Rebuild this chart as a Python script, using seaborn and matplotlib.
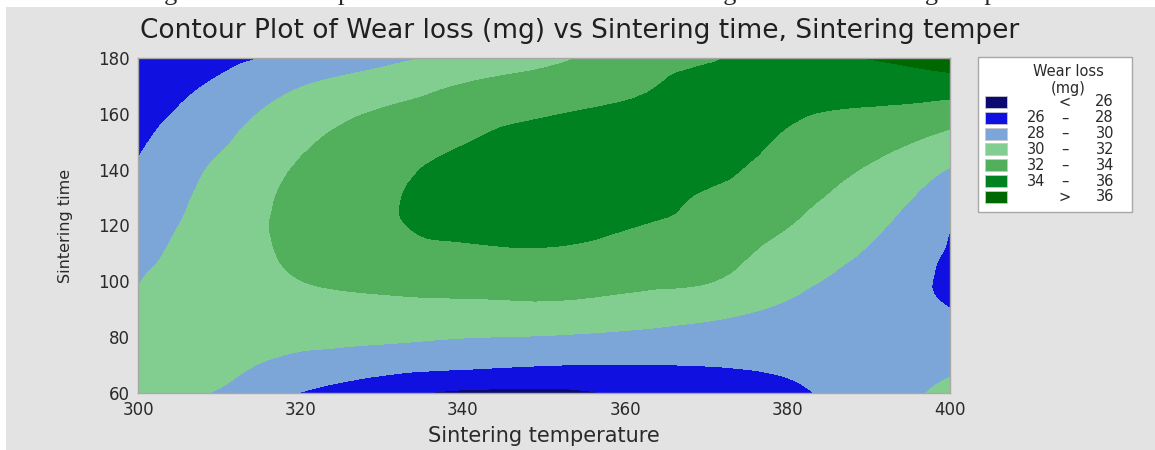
import numpy as np
import pandas as pd
import matplotlib
matplotlib.use("Agg")
import matplotlib.pyplot as plt
import matplotlib.tri as mtri
from matplotlib.patches import Rectangle
import seaborn as sns

# grid (wear loss in mg)
temps = [300, 310, 320, 330, 340, 350, 360, 370, 380, 390, 400]
times = [60, 70, 80, 90, 100, 110, 120, 130, 140, 150, 160, 170, 180]
wear_t60 = [30.5, 29.9, 27.95, 26.6, 25.7, 25.6, 26.2, 26.9, 27.6, 28.93, 30.5]
wear_t70 = [30.7, 30.4, 29.37, 28.76, 28.36, 28.04, 27.95, 28.04, 28.32, 29.0, 29.7]
wear_t80 = [30.7, 30.65, 30.55, 30.35, 30.05, 29.9, 29.6, 29.25, 29.04, 29.0, 28.8]
wear_t90 = [30.4, 30.85, 31.3, 31.4, 31.5, 31.6, 31.2, 30.6, 29.75, 28.9, 28.02]
wear_t100 = [29.96, 31.0, 31.98, 32.5, 32.7, 32.8, 32.5, 32.1, 30.5, 29.2, 27.7]
wear_t110 = [29.5, 31.0, 32.4, 33.3, 33.6, 33.8, 33.4, 32.8, 31.3, 29.8, 27.8]
wear_t120 = [29.07, 30.9, 32.6, 33.7, 34.5, 34.6, 34.1, 33.4, 32.05, 30.46, 28.1]
wear_t130 = [28.62, 30.7, 32.5, 33.7, 34.8, 35.0, 34.7, 33.8, 32.6, 31.1, 29.0]
wear_t140 = [28.18, 30.35, 32.2, 33.4, 34.6, 35.1, 35.0, 34.5, 33.2, 31.8, 29.9]
wear_t150 = [27.75, 29.7, 31.7, 32.9, 33.9, 34.8, 34.9, 34.9, 33.75, 32.8, 31.3]
wear_t160 = [27.3, 29.0, 31.1, 32.2, 33.1, 33.85, 34.4, 35.0, 34.2, 33.7, 32.9]
wear_t170 = [26.9, 28.3, 29.93, 31.0, 32.1, 32.7, 33.5, 34.7, 34.6, 34.93, 35.0]
wear_t180 = [26.5, 27.45, 28.46, 29.47, 30.52, 31.6, 32.71, 33.83, 34.97, 36.05, 37.2]

levels = [20, 26, 28, 30, 32, 34, 36, 40]
legend_labels = [("", "<", "26"), ("26", "\u2013", "28"), ("28", "\u2013", "30"),
                 ("30", "\u2013", "32"), ("32", "\u2013", "34"), ("34", "\u2013", "36"),
                 ("", ">", "36")]
colors = ["#0a0a70", "#1010e0", "#7ca6d8", "#82ce90", "#52b05c", "#008220", "#006800"]

table = pd.DataFrame([wear_t60, wear_t70, wear_t80, wear_t90, wear_t100, wear_t110,
                      wear_t120, wear_t130, wear_t140, wear_t150, wear_t160,
                      wear_t170, wear_t180], index=times, columns=temps)

sns.set_style("white")
plt.rcParams['font.family'] = ['DejaVu Sans']
pal = sns.color_palette(colors)

W, H = 1155, 450
fig = plt.figure(figsize=(W / 100, H / 100), dpi=100)
fig.patch.set_facecolor("white")
# grey minitab panel
fig.patches.append(Rectangle((6 / W, 0), 1 - 6 / W, 1 - 7 / H, transform=fig.transFigure,
                             facecolor="#e3e3e3", edgecolor="none", zorder=-5))
# clipped caption of the source document above the panel
fig.text(0.525, 1.0, "Figure 6: Contour plot between wear loss with Sintering time and Sintering temperature",
         ha="center", va="baseline", fontsize=19, family="Liberation Serif", zorder=-10)

ax = fig.add_axes([138 / W, 1 - 393 / H, (950 - 138) / W, (393 - 58) / H])
# smooth surface: matplotlib's cubic triangulation refiner over the read grid
tt, TT = np.meshgrid(table.index.values, table.columns.values, indexing="ij")
tri = mtri.Triangulation(TT.ravel(), tt.ravel())
refiner = mtri.UniformTriRefiner(tri)
interp = mtri.CubicTriInterpolator(tri, table.values.ravel(), kind="geom")
tri_f, z_f = refiner.refine_field(table.values.ravel(), triinterpolator=interp, subdiv=3)
ax.tricontourf(tri_f, z_f, levels=levels, colors=pal)
ax.set_xlim(300, 400)
ax.set_ylim(60, 180)
ax.set_xticks([300, 320, 340, 360, 380, 400])
ax.set_yticks([60, 80, 100, 120, 140, 160, 180])
for s in ax.spines.values():
    s.set_color("#a8a8a8")
    s.set_linewidth(1)
ax.tick_params(direction="out", length=4, width=1, color="#a0a0a0", labelsize=12,
               labelcolor="#2a2a2a", pad=2)
ax.set_xlabel("Sintering temperature", fontsize=15, color="#2a2a2a", labelpad=5)
ax.set_ylabel("Sintering time", fontsize=11.5, color="#2a2a2a", labelpad=18)
fig.text(580 / W, 1 - 31 / H, "Contour Plot of Wear loss (mg) vs Sintering time, Sintering temper",
         ha="center", va="center", fontsize=19, color="#202020")

# legend box
fig.patches.append(Rectangle((978 / W, 1 - 212 / H), 154 / W, 155 / H, transform=fig.transFigure,
                             facecolor="white", edgecolor="#a8a8a8", lw=1, zorder=1))
fig.text(1068 / W, 1 - 72 / H, "Wear loss", ha="center", va="center", fontsize=10.5, color="#2a2a2a")
fig.text(1068 / W, 1 - 88 / H, "(mg)", ha="center", va="center", fontsize=10.5, color="#2a2a2a")
for i, (c, (lo, sep, hi)) in enumerate(zip(pal, legend_labels)):
    yc = 102 + i * 15.8
    fig.patches.append(Rectangle((985 / W, 1 - (yc + 6) / H), 22 / W, 12 / H,
                                 transform=fig.transFigure, facecolor=c,
                                 edgecolor="#c8c8c8", lw=0.6, zorder=2))
    fig.text(1045 / W, 1 - yc / H, lo, ha="right", va="center", fontsize=10.5, color="#2a2a2a")
    fig.text(1065 / W, 1 - yc / H, sep, ha="center", va="center", fontsize=10.5, color="#2a2a2a")
    fig.text(1114 / W, 1 - yc / H, hi, ha="right", va="center", fontsize=10.5, color="#2a2a2a")

fig.savefig("out.png", dpi=100)
